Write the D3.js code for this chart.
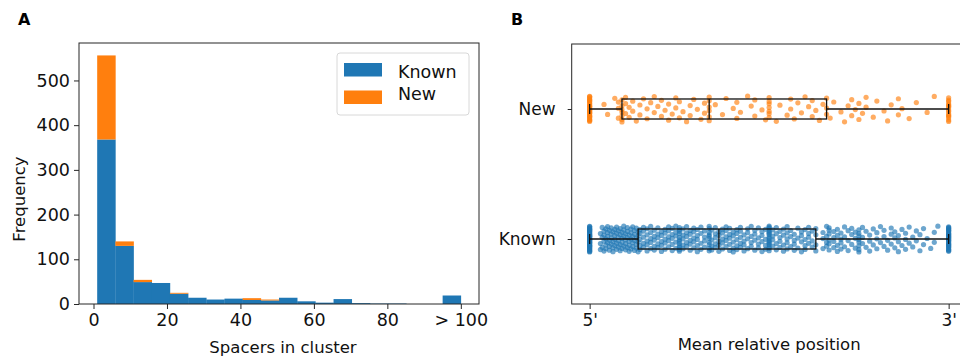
<!DOCTYPE html>
<html>
<head>
<meta charset="utf-8">
<script src="https://cdn.jsdelivr.net/npm/d3@7"></script>
<style>
  body { margin: 0; background: #fff; }
  svg { display: block; font-family: "DejaVu Sans", sans-serif; }
</style>
</head>
<body>
<svg id="chart" width="960" height="358"></svg>
<script>
// ---------- panel A: spacers per cluster, 20 bins from 1 to 100 (last bin = > 100) ----------
const knownCounts = [368, 130, 49, 47, 23, 14, 10, 12, 9, 8, 14, 6, 3, 11, 2, 1, 1, 0, 0, 19];
const newCounts   = [188, 10, 5, 0, 2, 0, 0, 0, 4, 2, 0, 0, 0, 0, 0, 0, 0, 0, 0, 0];
const xTicksA = [0, 20, 40, 60, 80, 100];
const xTickLabelsA = ["0", "20", "40", "60", "80", "> 100"];
const yTicksA = [0, 100, 200, 300, 400, 500];

// ---------- panel B: mean relative position (% from 5' to 3'), [position, clusters] ----------
const newStrip = [[0,28],[4,1],[5,1],[7,1],[8,3],[9,7],[10,3],[11,2],[12,2],[13,1],[14,2],[15,1],[16,2],[17,1],
  [18,2],[19,1],[20,2],[21,1],[22,2],[23,1],[24,2],[25,2],[26,1],[27,1],[28,2],[29,1],[30,1],[31,1],[32,2],
  [33.3,6],[35,1],[37,1],[38,1],[40,1],[41,2],[42,1],[44,1],[45,1],[46,2],[48,1],[49,1],[50,7],[52,1],[53,1],
  [55,1],[56,2],[57,1],[58,1],[59,1],[60,1],[61,1],[62,2],[63,1],[64,1],[65,1],[66,3],[67,1],[68,1],[70,1],
  [71,1],[72,1],[73,2],[74,1],[75,2],[76,1],[77,2],[79,1],[80,1],[82,1],[83,1],[84,1],[86,2],[87,1],[89,1],
  [91,1],[94,1],[96,1],[100,15]];
const knownStrip = [[0,40],[3,3],[3.5,3],[4,4],[4.5,4],[5,4],[5.5,4],[6,4],[6.5,4],[7,4],[7.5,4],[8,4],[8.5,4],
  [9,4],[9.5,4],[10,4],[10.5,4],[11,4],[11.5,4],[12,4],[12.5,4],[13,4],[13.5,4],
  [14,5],[15,5],[16,5],[17,5],[18,5],[19,5],[20,5],[21,5],[22,5],[23,5],[24,5],[25,12],[26,5],[27,5],[28,5],
  [29,5],[30,5],[31,4],[32,4],[33.3,10],[34,4],[35,5],[36,5],
  [37,5],[38,5],[39,5],[40,5],[41,5],[42,5],[43,4],[44,4],[45,4],[46,4],[47,4],[48,4],[49,4],[50,16],[51,4],
  [52,4],[53,4],[54,4],[55,5],[56,3],[57,4],[58,3],[59,4],[60,4],[61,4],[62,3],[63,4],
  [65,3],[66,4],[66.7,6],[68,4],[69,4],[70,4],[71,3],[72,3],[73,3],[74,3],[75,8],[76,3],[77,2],[78,3],[79,2],
  [80,3],[81,2],[82,3],[83,2],[84,3],[85,3],[86,3],[87,2],[88,3],[89,2],[90,2],[91,2],[92,2],[93,2],[94,1],
  [95,1],[96,2],[97,1],[100,30]];
const groups = ["Known", "New"];
const xTickLabelsB = ["5'", "3'"];

const BLUE = "#1f77b4", ORANGE = "#ff7f0e", INK = "#262626";

const svg = d3.select("#chart");

function styleAxis(g, size) {
  g.select(".domain").remove();
  g.selectAll(".tick line").attr("stroke", INK).attr("stroke-width", 1);
  g.selectAll(".tick text").attr("fill", "#111").attr("font-size", size).attr("font-family", "DejaVu Sans");
}

// ===================== A =====================
const A = { left: 79, right: 479, top: 43, bottom: 304 };
const binW = (100 - 1) / knownCounts.length;
const bins = knownCounts.map((k, i) => ({ x0: 1 + i * binW, x1: 1 + (i + 1) * binW, known: k, added: newCounts[i] }));

const xA = d3.scaleLinear().domain([1 - binW, 100 + binW]).range([A.left, A.right]);
const yA = d3.scaleLinear()
  .domain([0, d3.max(bins, d => d.known + d.added) * 1.05])
  .range([A.bottom, A.top]);

const gA = svg.append("g");
gA.selectAll("rect.known").data(bins).join("rect")
  .attr("class", "known")
  .attr("x", d => xA(d.x0))
  .attr("width", d => xA(d.x1) - xA(d.x0) + 0.3)
  .attr("y", d => yA(d.known))
  .attr("height", d => yA(0) - yA(d.known))
  .attr("fill", BLUE);
gA.selectAll("rect.added").data(bins.filter(d => d.added > 0)).join("rect")
  .attr("class", "added")
  .attr("x", d => xA(d.x0))
  .attr("width", d => xA(d.x1) - xA(d.x0) + 0.3)
  .attr("y", d => yA(d.known + d.added))
  .attr("height", d => yA(d.known) - yA(d.known + d.added))
  .attr("fill", ORANGE);

gA.append("g")
  .attr("transform", `translate(0,${A.bottom})`)
  .call(d3.axisBottom(xA).tickValues(xTicksA).tickFormat((d, i) => xTickLabelsA[i]).tickSize(5).tickPadding(5))
  .call(g => styleAxis(g, 17.5));
gA.append("g")
  .attr("transform", `translate(${A.left},0)`)
  .call(d3.axisLeft(yA).tickValues(yTicksA).tickSize(5).tickPadding(4))
  .call(g => styleAxis(g, 17.5));

gA.append("rect")
  .attr("x", A.left).attr("y", A.top)
  .attr("width", A.right - A.left).attr("height", A.bottom - A.top)
  .attr("fill", "none").attr("stroke", INK).attr("stroke-width", 1);

// legend
const leg = gA.append("g").attr("transform", "translate(337,53)");
leg.append("rect").attr("width", 132).attr("height", 62).attr("rx", 3)
  .attr("fill", "#fff").attr("stroke", "#d8d8d8");
[["Known", BLUE], ["New", ORANGE]].forEach(([name, col], i) => {
  leg.append("rect").attr("x", 7).attr("y", 10 + i * 27.5).attr("width", 38).attr("height", 13.5).attr("fill", col);
  leg.append("text").attr("x", 61).attr("y", 24.5 + i * 22.5).attr("font-size", 17.5).attr("fill", "#111").text(name);
});

gA.append("text").attr("transform", "translate(25,199) rotate(-90)")
  .attr("text-anchor", "middle").attr("font-size", 16.5).attr("fill", "#111").text("Frequency");
gA.append("text").attr("x", 283).attr("y", 353)
  .attr("text-anchor", "middle").attr("font-size", 16.5).attr("fill", "#111").text("Spacers in cluster");
svg.append("text").attr("x", 18).attr("y", 25).attr("font-size", 16).attr("font-weight", "bold").text("A");

// ===================== B =====================
const B = { left: 571.7, top: 44, bottom: 304 };
const xB = d3.scaleLinear().domain([-0.05, 1.05]).range([B.left, B.left + 359 * 1.1]);
const yB = d3.scaleLinear().domain([-0.5, 1.5]).range([B.bottom, B.top]);
const boxHalf = 0.077, jitter = 0.1;

const series = [
  { name: "Known", idx: 0, color: BLUE, table: knownStrip },
  { name: "New", idx: 1, color: ORANGE, table: newStrip }
];
series.forEach(s => {
  s.values = s.table.flatMap(([p, n]) => d3.range(n).map(() => p / 100));
  const v = s.values.slice().sort(d3.ascending);
  s.q1 = d3.quantile(v, 0.25);
  s.med = d3.quantile(v, 0.5);
  s.q3 = d3.quantile(v, 0.75);
  const iqr = s.q3 - s.q1;
  s.lo = d3.min(v.filter(x => x >= s.q1 - 1.5 * iqr));
  s.hi = d3.max(v.filter(x => x <= s.q3 + 1.5 * iqr));
});

const gB = svg.append("g");
series.forEach(s => {
  // stripplot; spread each point inside the band with a golden-ratio sequence
  gB.append("g").selectAll("circle").data(s.values).join("circle")
    .attr("cx", d => xB(d))
    .attr("cy", (d, k) => yB(s.idx + (((k * 0.6180339887 + 0.37) % 1) * 2 - 1) * jitter))
    .attr("r", 2.6)
    .attr("fill", s.color)
    .attr("fill-opacity", 0.65);
});
series.forEach(s => {
  const g = gB.append("g").attr("stroke", "#111").attr("stroke-width", 1.3).attr("fill", "none");
  g.append("rect")
    .attr("x", xB(s.q1)).attr("width", xB(s.q3) - xB(s.q1))
    .attr("y", yB(s.idx + boxHalf)).attr("height", yB(s.idx - boxHalf) - yB(s.idx + boxHalf));
  g.append("line").attr("x1", xB(s.med)).attr("x2", xB(s.med))
    .attr("y1", yB(s.idx + boxHalf)).attr("y2", yB(s.idx - boxHalf));
  [[s.lo, s.q1], [s.q3, s.hi]].forEach(([a, b]) => {
    g.append("line").attr("x1", xB(a)).attr("x2", xB(b)).attr("y1", yB(s.idx)).attr("y2", yB(s.idx));
  });
  [s.lo, s.hi].forEach(c => {
    g.append("line").attr("x1", xB(c)).attr("x2", xB(c))
      .attr("y1", yB(s.idx + boxHalf / 2)).attr("y2", yB(s.idx - boxHalf / 2));
  });
});

gB.append("g")
  .attr("transform", `translate(0,${B.bottom})`)
  .call(d3.axisBottom(xB).tickValues([0, 1]).tickFormat((d, i) => xTickLabelsB[i]).tickSize(5).tickPadding(5))
  .call(g => styleAxis(g, 17));
gB.append("g")
  .attr("transform", `translate(${B.left},0)`)
  .call(d3.axisLeft(yB).tickValues([0, 1]).tickFormat(d => groups[d]).tickSize(4).tickPadding(12))
  .call(g => styleAxis(g, 17));

gB.append("rect")
  .attr("x", B.left).attr("y", B.top)
  .attr("width", xB(1.05) - B.left).attr("height", B.bottom - B.top)
  .attr("fill", "none").attr("stroke", INK).attr("stroke-width", 1);

gB.append("text").attr("x", xB(0.5)).attr("y", 350)
  .attr("text-anchor", "middle").attr("font-size", 16.5).attr("fill", "#111").text("Mean relative position");
svg.append("text").attr("x", 511).attr("y", 25).attr("font-size", 16).attr("font-weight", "bold").text("B");
</script>
</body>
</html>
